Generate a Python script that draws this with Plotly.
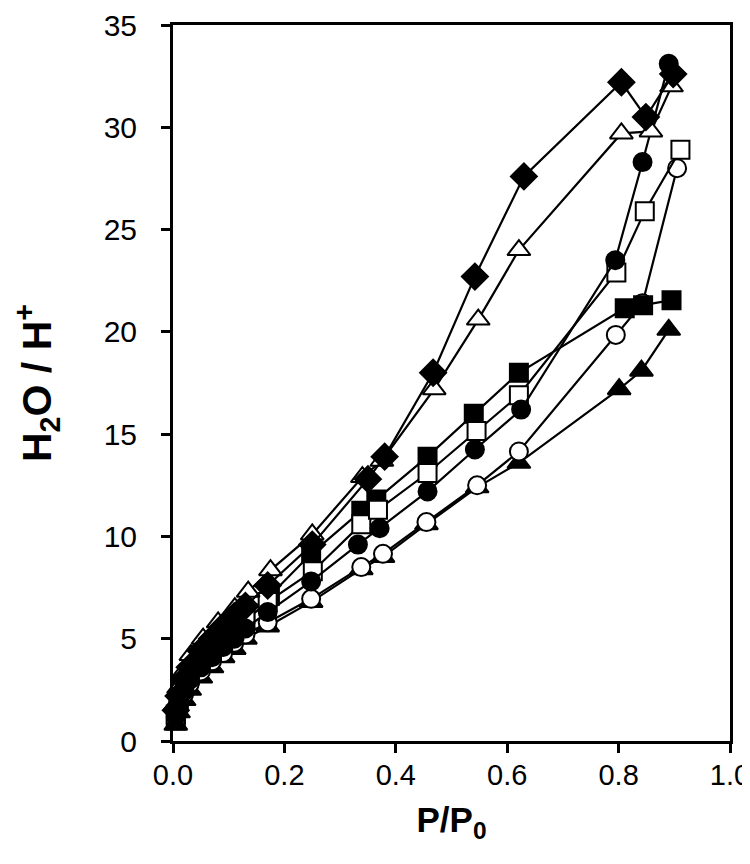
import plotly.graph_objects as go

# ---- data ----
dia_x = [0.005, 0.01, 0.02, 0.03, 0.05, 0.07, 0.09, 0.11, 0.13, 0.17, 0.25, 0.35, 0.38, 0.467, 0.542, 0.630, 0.805, 0.849, 0.898]
dia_y = [1.5, 2.2, 3.0, 3.6, 4.4, 5.0, 5.6, 6.1, 6.6, 7.6, 9.6, 12.8, 13.9, 18.0, 22.7, 27.6, 32.2, 30.5, 32.6]

otri_x = [0.005, 0.01, 0.02, 0.032, 0.054, 0.081, 0.111, 0.135, 0.175, 0.25, 0.34, 0.375, 0.469, 0.548, 0.621, 0.805, 0.858, 0.895]
otri_y = [1.8, 2.6, 3.4, 4.2, 5.0, 5.8, 6.5, 7.3, 8.35, 10.1, 12.9, 13.7, 17.2, 20.6, 24.0, 29.7, 29.8, 32.0]

fcir_x = [0.005, 0.01, 0.02, 0.03, 0.05, 0.07, 0.09, 0.11, 0.13, 0.17, 0.248, 0.332, 0.371, 0.457, 0.542, 0.625, 0.794, 0.843, 0.890]
fcir_y = [1.2, 1.8, 2.5, 3.0, 3.6, 4.1, 4.6, 5.0, 5.5, 6.3, 7.8, 9.6, 10.4, 12.2, 14.25, 16.2, 23.5, 28.3, 33.1]

osq_x = [0.005, 0.01, 0.02, 0.03, 0.05, 0.07, 0.09, 0.11, 0.13, 0.17, 0.251, 0.338, 0.368, 0.457, 0.545, 0.621, 0.796, 0.847, 0.911]
osq_y = [1.3, 2.0, 2.7, 3.2, 3.9, 4.4, 4.9, 5.4, 5.9, 6.8, 8.3, 10.6, 11.3, 13.1, 15.15, 16.9, 22.9, 25.9, 28.9]

fsq_x = [0.005, 0.01, 0.02, 0.03, 0.05, 0.07, 0.09, 0.11, 0.13, 0.174, 0.248, 0.338, 0.365, 0.457, 0.540, 0.621, 0.811, 0.844, 0.895]
fsq_y = [1.0, 1.9, 2.7, 3.3, 4.1, 4.7, 5.2, 5.7, 6.2, 7.1, 9.15, 11.25, 11.8, 13.9, 16.0, 18.0, 21.15, 21.3, 21.55]

ocir_x = [0.005, 0.01, 0.02, 0.03, 0.05, 0.07, 0.09, 0.11, 0.13, 0.17, 0.248, 0.338, 0.377, 0.455, 0.546, 0.621, 0.795, 0.843, 0.905]
ocir_y = [1.1, 1.7, 2.3, 2.8, 3.4, 3.9, 4.3, 4.8, 5.2, 5.8, 6.95, 8.5, 9.15, 10.7, 12.5, 14.15, 19.85, 21.4, 28.0]

ftri_x = [0.005, 0.01, 0.02, 0.03, 0.05, 0.07, 0.09, 0.11, 0.13, 0.17, 0.248, 0.338, 0.377, 0.455, 0.546, 0.621, 0.801, 0.841, 0.890]
ftri_y = [0.8, 1.4, 2.0, 2.5, 3.1, 3.6, 4.1, 4.5, 5.0, 5.6, 6.8, 8.4, 9.0, 10.6, 12.4, 13.6, 17.2, 18.1, 20.1]

x_ticks = [0.0, 0.2, 0.4, 0.6, 0.8, 1.0]
x_tick_text = ["0.0", "0.2", "0.4", "0.6", "0.8", "1.0"]
y_ticks = [0, 5, 10, 15, 20, 25, 30, 35]
y_tick_text = ["0", "5", "10", "15", "20", "25", "30", "35"]

series = [
    (ftri_x, ftri_y, "triangle-up", "black", 20),
    (ocir_x, ocir_y, "circle", "white", 18),
    (fsq_x, fsq_y, "square", "black", 18),
    (osq_x, osq_y, "square", "white", 18),
    (fcir_x, fcir_y, "circle", "black", 18),
    (otri_x, otri_y, "triangle-up", "white", 20),
    (dia_x, dia_y, "diamond", "black", 20),
]

fig = go.Figure()
for xs, ys, sym, fill, sz in series:
    fig.add_trace(go.Scatter(
        x=xs, y=ys, mode="lines+markers",
        line=dict(color="black", width=2.2),
        marker=dict(symbol=sym, size=sz, color=fill,
                    line=dict(color="black", width=2)),
        showlegend=False, cliponaxis=False,
    ))

font_family = "Liberation Sans, Arial, sans-serif"
fig.update_layout(
    width=750, height=864,
    margin=dict(l=165, r=28, t=17, b=131, autoexpand=False),
    paper_bgcolor="white", plot_bgcolor="white",
    font=dict(family=font_family, color="black"),
)
fig.update_xaxes(
    range=[0, 1.0], tickvals=x_ticks, ticktext=x_tick_text,
    showgrid=False, zeroline=False, automargin=False,
    showline=True, linecolor="black", linewidth=3, mirror=True,
    ticks="outside", ticklen=9, tickwidth=3, tickcolor="black",
    tickfont=dict(size=29, family=font_family),
    ticklabelstandoff=-3, ticklabeloverflow="allow",
    title=dict(text="<b>P/P<sub>0</sub></b>", font=dict(size=35, family=font_family), standoff=18),
)
fig.update_yaxes(
    range=[0, 35.0001], tickvals=y_ticks, ticktext=y_tick_text,
    showgrid=False, zeroline=False, automargin=False,
    showline=True, linecolor="black", linewidth=3, mirror=True,
    ticks="outside", ticklen=9, tickwidth=3, tickcolor="black",
    tickfont=dict(size=30, family=font_family),
    ticklabelstandoff=18, ticklabeloverflow="allow",
    title=dict(text="<b>H<sub>2</sub>O / H<sup>+</sup></b>", font=dict(size=41, family=font_family), standoff=60),
)

fig.write_html("out.html")
